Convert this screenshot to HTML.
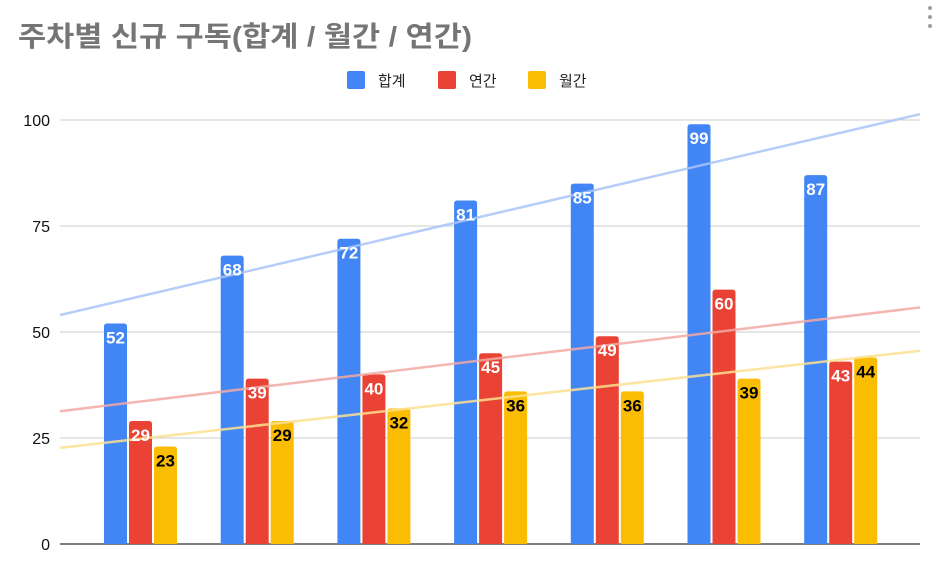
<!DOCTYPE html>
<html><head><meta charset="utf-8"><style>
body{margin:0;background:#fff;font-family:"Liberation Sans","Noto Sans CJK KR",sans-serif}
</style></head><body>
<svg id="c" width="940" height="574" xmlns="http://www.w3.org/2000/svg" style="display:block">
<text x="18" y="46" font-size="28" font-weight="bold" fill="#757575" textLength="454" lengthAdjust="spacingAndGlyphs" font-family="Liberation Sans, Noto Sans CJK KR, sans-serif">주차별 신규 구독(합계 / 월간 / 연간)</text>
<g fill="#9e9e9e"><circle cx="930" cy="8" r="2"/><circle cx="930" cy="17" r="2"/><circle cx="930" cy="26" r="2"/></g>
<g font-size="15" fill="#222">
<rect x="347" y="71" width="18" height="18" rx="2" fill="#4285f4"/><text x="378" y="86">합계</text>
<rect x="438" y="71" width="18" height="18" rx="2" fill="#ea4335"/><text x="469" y="86">연간</text>
<rect x="528" y="71" width="18" height="18" rx="2" fill="#fbbc04"/><text x="559" y="86">월간</text>
</g>
<g id="grid"></g><g id="bars"></g><g id="trend"></g><g id="labels"></g>
</svg>
<script>
const categories=["W1","W2","W3","W4","W5","W6","W7"];
const totalValues=[52,68,72,81,85,99,87];
const annualValues=[29,39,40,45,49,60,43];
const monthlyValues=[23,29,32,36,36,39,44];
const yTicks=[0,25,50,75,100];
const NS="http://www.w3.org/2000/svg";
const y=v=>544-v*4.24;
const xc=i=>140.5+i*116.7;
const xInv=px=>(px-140.5)/116.7;
function mk(t,a,p){const e=document.createElementNS(NS,t);for(const k in a)e.setAttribute(k,a[k]);document.getElementById(p).appendChild(e);return e;}
yTicks.forEach(t=>{
 const l=mk('line',{x1:60,x2:920,y1:y(t),y2:y(t),stroke:t===0?'#333':'#ccc','stroke-width':t===0?1.3:1},'grid');
 
 
 const tx=mk('text',{x:50,y:y(t)+6,'text-anchor':'end','font-size':16,fill:'#111'},'grid');
 tx.textContent=t;
 
 
});
const series=[{v:totalValues,c:'#4285f4',t:'#a8c4f7',n:'total',off:-25,lc:'#fff'},{v:annualValues,c:'#ea4335',t:'#f2a9a2',n:'annual',off:0,lc:'#fff'},{v:monthlyValues,c:'#fbbc04',t:'#fbe08f',n:'monthly',off:25,lc:'#000'}];
series.forEach(s=>{
 const n=s.v.length,xm=(n-1)/2,ym=s.v.reduce((a,b)=>a+b,0)/n;
 let sxy=0,sxx=0;s.v.forEach((v,i)=>{sxy+=(i-xm)*(v-ym);sxx+=(i-xm)*(i-xm);});
 const m=sxy/sxx,f=x=>ym+m*(x-xm);
 const tl=mk('line',{x1:60,y1:y(f(xInv(60))),x2:920,y2:y(f(xInv(920))),stroke:s.t,'stroke-width':2.5,'stroke-opacity':0.85},'trend');
 
 
 s.v.forEach((v,i)=>{
  const cx=xc(i)+s.off;
  const r=mk('path',{d:`M${cx-11.5},544 V${y(v)+3} Q${cx-11.5},${y(v)} ${cx-8.5},${y(v)} H${cx+8.5} Q${cx+11.5},${y(v)} ${cx+11.5},${y(v)+3} V544 Z`,fill:s.c},'bars');
  
  
  const t=mk('text',{x:cx,y:y(v)+20,'text-anchor':'middle','font-size':17,'font-weight':'bold',fill:s.lc},'labels');
  t.textContent=v;
  
  
 });
});
</script>
</body></html>
